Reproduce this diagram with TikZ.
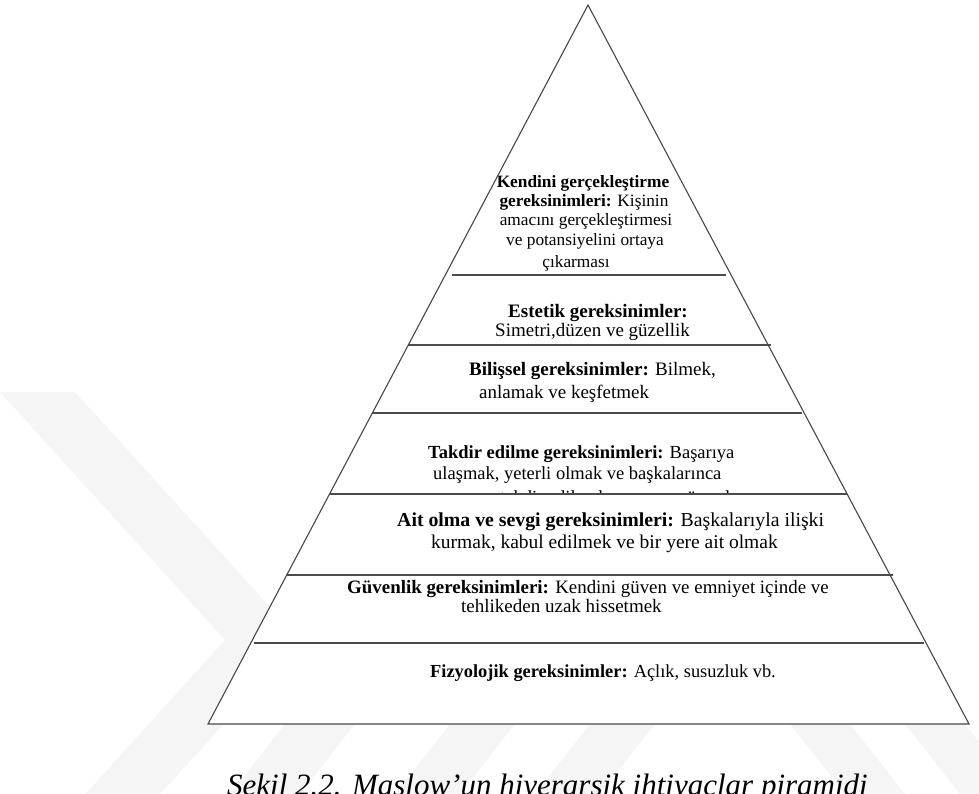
\documentclass[tikz,border=0pt]{standalone}
\usepackage{fontspec}
\setmainfont{Liberation Serif}
\begin{document}
\begin{tikzpicture}[x=1pt,y=-1pt]
\tikzset{
  edgeline/.style={draw=black!72, line width=1.1pt},
  layline/.style={draw=black!70, line width=1.3pt},
  txt/.style={anchor=base west, inner sep=0pt, font=\fontsize{19}{22}\selectfont},
  toptxt/.style={anchor=base, inner sep=0pt, font=\fontsize{17.3}{20}\selectfont},
  smalltxt/.style={anchor=base west, inner sep=0pt, font=\fontsize{18.4}{21}\selectfont},
  wmark/.style={fill=black!4, draw=none}
}
\useasboundingbox (0,0) rectangle (979,794);
\clip (0,0) rectangle (979,794);
% faint background watermark
\fill[wmark] (0,392) -- (75,392) -- (300,640) -- (75,888) -- (0,888) -- (225,640) -- cycle;
\fill[wmark] (230,794) -- (300,794) -- (355,724) -- (285,724) -- cycle;
\fill[wmark] (395,794) -- (460,794) -- (515,724) -- (450,724) -- cycle;
\fill[wmark] (535,794) -- (600,794) -- (655,724) -- (590,724) -- cycle;
\fill[wmark] (790,724) -- (850,724) -- (905,794) -- (845,794) -- cycle;
\fill[wmark] (905,724) -- (965,724) -- (1020,794) -- (960,794) -- cycle;
% pyramid body
\fill[white] (588,5) -- (208,724) -- (969,724) -- cycle;
% texts
\node[toptxt] (k1) at (583,188) {\textbf{Kendini gerçekleştirme}};
\node[toptxt] (k2) at (584,207) {\textbf{gereksinimleri:} Kişinin};
\node[toptxt] (k3) at (586,226) {amacını gerçekleştirmesi};
\node[toptxt] (k4) at (585,246) {ve potansiyelini ortaya};
\node[toptxt] (k5) at (576,268) {çıkarması};
\node[txt] (e1) at (508,317) {\textbf{Estetik gereksinimler:}};
\node[txt] (e2) at (495,336) {Simetri,düzen ve güzellik};
\node[txt] (b1) at (469,375) {\textbf{Bilişsel gereksinimler:} Bilmek,};
\node[txt] (b2) at (479,398) {anlamak ve keşfetmek};
\node[txt, font=\fontsize{18.5}{21}\selectfont] (t1) at (428,458) {\textbf{Takdir edilme gereksinimleri:} Başarıya};
\node[txt, font=\fontsize{18.5}{21}\selectfont] (t2) at (433,479) {ulaşmak, yeterli olmak ve başkalarınca};
\begin{scope}
  \clip (0,0) rectangle (979,493);
  \node[txt, font=\fontsize{18.5}{21}\selectfont] (t3) at (500,503.5) {takdir edilmek ve saygı görmek};
\end{scope}
\node[txt, font=\fontsize{19.8}{22}\selectfont] (a1) at (397,526) {\textbf{Ait olma ve sevgi gereksinimleri:} Başkalarıyla ilişki};
\node[txt, font=\fontsize{19.5}{22}\selectfont] (a2) at (431,548) {kurmak, kabul edilmek ve bir yere ait olmak};
\node[txt, font=\fontsize{18.9}{22}\selectfont] (g1) at (347,593) {\textbf{Güvenlik gereksinimleri:} Kendini güven ve emniyet içinde ve};
\node[txt] (g2) at (461,612) {tehlikeden uzak hissetmek};
\node[smalltxt] (f1) at (430,677) {\textbf{Fizyolojik gereksinimler:} Açlık, susuzluk vb.};
% layer lines
\coordinate (l1a) at (452,275); \coordinate (l1b) at (726,275);
\coordinate (l2a) at (408,345); \coordinate (l2b) at (771,345);
\coordinate (l3a) at (372,413); \coordinate (l3b) at (802,413);
\coordinate (l4a) at (330,494); \coordinate (l4b) at (847,494);
\coordinate (l5a) at (286,575); \coordinate (l5b) at (893,575);
\coordinate (l6a) at (254,643); \coordinate (l6b) at (924,643);
\draw[layline] (l1a) -- (l1b);
\draw[layline] (l2a) -- (l2b);
\draw[layline] (l3a) -- (l3b);
\draw[layline] (l4a) -- (l4b);
\draw[layline] (l5a) -- (l5b);
\draw[layline] (l6a) -- (l6b);
% outline
\coordinate (apex) at (588,5);
\coordinate (bl) at (208,724);
\coordinate (br) at (969,724);
\draw[edgeline, line join=miter] (bl) -- (apex) -- (br) -- cycle;
% caption (cut off at the lower edge, as in the reference)
\node[anchor=base west, inner sep=0pt, font=\fontsize{31}{36}\selectfont\itshape] (cap) at (227,795) {Şekil 2.2. Maslow’un hiyerarşik ihtiyaçlar piramidi};
\end{tikzpicture}
\end{document}
